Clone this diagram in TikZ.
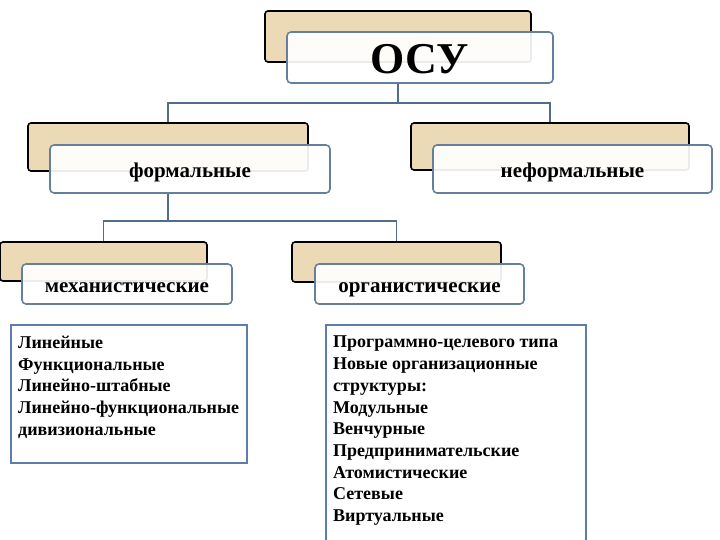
\documentclass[tikz,border=0pt]{standalone}
\usepackage{fontspec}
\setmainfont{Liberation Serif}
\definecolor{tan}{RGB}{236,218,182}
\definecolor{frontline}{RGB}{100,128,158}
\definecolor{conn}{RGB}{82,108,140}
\definecolor{listline}{RGB}{95,125,170}
\tikzset{
  backbox/.style={draw=black, line width=1.6pt, fill=tan, rounded corners=3pt, inner sep=0pt},
  frontbox/.style={draw=frontline, line width=1.6pt, fill=white, fill opacity=0.92, text opacity=1, rounded corners=4pt, inner sep=0pt, text height=18pt, text depth=0.2pt, font=\bfseries\fontsize{21}{23}\selectfont},
  listbox/.style={draw=listline, line width=1.5pt, fill=white},
  listtext/.style={align=left, inner sep=0pt, anchor=north west, font=\bfseries\fontsize{18}{21.7}\selectfont},
  connector/.style={draw=conn, line width=1.5pt},
}
\begin{document}
\begin{tikzpicture}[x=1pt,y=-1pt]
\clip (0,0) rectangle (720,540);
\fill[white] (0,0) rectangle (720,540);
% ОСУ
\node[backbox, minimum width=266pt, minimum height=51pt] (osuB) at (398,36.5) {};
\node[frontbox, minimum width=266pt, minimum height=51pt, text height=33pt, text depth=0pt, font=\bfseries\fontsize{44}{46}\selectfont] (osuF) at (420,57.5) {ОСУ};
% level 2
\node[backbox, minimum width=280pt, minimum height=48pt] (formB) at (168,147) {};
\node[frontbox, minimum width=280pt, minimum height=48pt] (formF) at (190,169) {формальные};
\node[backbox, minimum width=278pt, minimum height=47pt] (neB) at (550,146.5) {};
\node[frontbox, minimum width=279pt, minimum height=48pt] (neF) at (572.5,169) {неформальные};
% level 3
\node[backbox, minimum width=207pt, minimum height=39pt] (mechB) at (103.5,261.5) {};
\node[frontbox, minimum width=210pt, minimum height=40pt] (mechF) at (127,284) {механистические};
\node[backbox, minimum width=209pt, minimum height=40pt] (orgB) at (396.5,262) {};
\node[frontbox, minimum width=209pt, minimum height=40pt] (orgF) at (419.5,284) {органистические};
% connectors
\coordinate (j1) at (398,103);
\coordinate (j2) at (168,221);
\draw[connector] (osuF.south -| osuB.center) -- (j1);
\draw[connector] (j1) -| (formB.north);
\draw[connector] (j1) -| (neB.north);
\draw[connector] (formF.south -| formB.center) -- (j2);
\draw[connector] (j2) -| (mechB.north);
\draw[connector] (j2) -| (orgB.north);
% lists
\node[listbox, minimum width=236pt, minimum height=138pt, inner sep=0pt] (listL) at (129,394) {};
\node[listtext] (txtL) at (18,336) {Линейные\\Функциональные\\Линейно-штабные\\Линейно-функциональные\\дивизиональные};
\node[listbox, minimum width=260pt, minimum height=240pt, inner sep=0pt] (listR) at (456,445) {};
\node[listtext] (txtR) at (333,336) {Программно-целевого типа\\Новые организационные\\структуры:\\Модульные\\Венчурные\\Предпринимательские\\Атомистические\\Сетевые\\Виртуальные};
\end{tikzpicture}
\end{document}
